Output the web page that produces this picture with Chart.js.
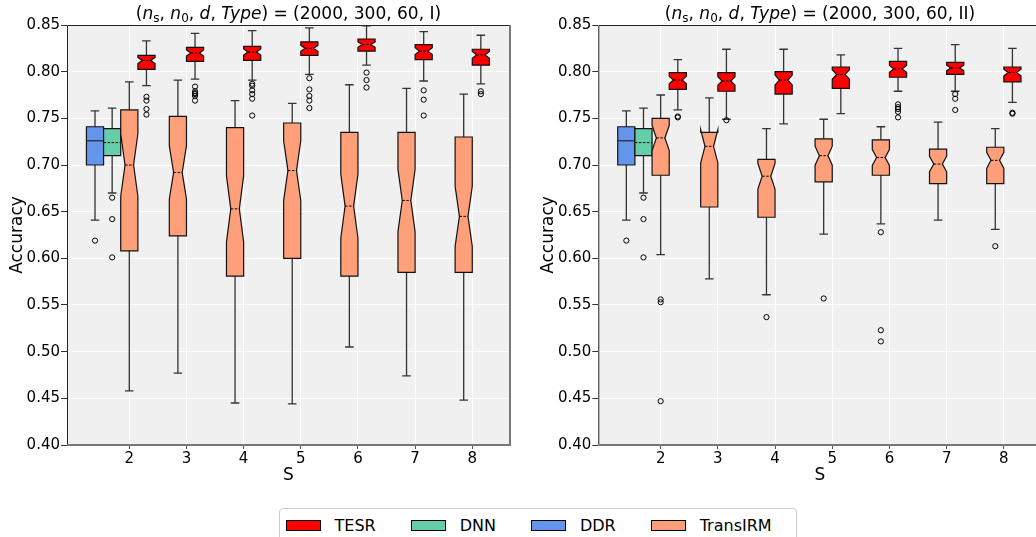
<!DOCTYPE html>
<html lang="en">
<head>
  <meta charset="UTF-8">
  <title>Accuracy vs S - TESR, DNN, DDR, TransIRM</title>
  <script src="https://cdn.jsdelivr.net/npm/chart.js"></script>
  <style>
    html, body { margin: 0; padding: 0; width: 1036px; height: 537px; overflow: hidden; background: #fff; }
    body { position: relative; font-family: "DejaVu Sans", sans-serif; color: #000; }
    .panel { position: absolute; top: 0; }
    .title { position: absolute; top: 2px; height: 22px; line-height: 22px; font-size: 17px; text-align: center; white-space: nowrap; }
    .title sub { font-size: 12px; line-height: 0; vertical-align: -3px; font-style: normal; }
    .legend { position: absolute; left: 279px; top: 508px; width: 518px; height: 40px; box-sizing: border-box;
              border: 1px solid #ccc; border-radius: 4px; padding: 6px 0 0 6px; display: flex; gap: 35.5px; }
    .item { display: flex; align-items: center; height: 20px; font-size: 16px; }
    .sw { width: 35px; height: 11px; box-sizing: border-box; border: 1px solid #000; margin-right: 13.5px; }
  </style>
</head>
<body>
  <div class="panel" style="left:0;width:522px;height:490px"><canvas id="chartI" width="522" height="490"></canvas></div>
  <div class="panel" style="left:525px;width:530px;height:490px"><canvas id="chartII" width="530" height="490"></canvas></div>

  <div class="title" style="left:67px;width:443px">(<i>n</i><sub>s</sub>, <i>n</i><sub>0</sub>, <i>d</i>, <i>Type</i>) = (2000, 300, 60, I)</div>
  <div class="title" style="left:598px;width:444px">(<i>n</i><sub>s</sub>, <i>n</i><sub>0</sub>, <i>d</i>, <i>Type</i>) = (2000, 300, 60, II)</div>

  <div class="legend">
    <div class="item"><span class="sw" style="background:#ff0000"></span>TESR</div>
    <div class="item"><span class="sw" style="background:#66cdaa"></span>DNN</div>
    <div class="item"><span class="sw" style="background:#6495ed"></span>DDR</div>
    <div class="item"><span class="sw" style="background:#ffa07a"></span>TransIRM</div>
  </div>

  <script>
    // ---- data ----
    const sValues = [2, 3, 4, 5, 6, 7, 8];
    const yTicks = [0.40, 0.45, 0.50, 0.55, 0.60, 0.65, 0.70, 0.75, 0.80, 0.85];
    const runs = 50; // repetitions per setting (notch width)

    // each row: [lower whisker, Q1, median, Q3, upper whisker]
    const ddrStats = [0.641, 0.700, 0.726, 0.741, 0.758];
    const ddrOut = [0.619];
    const dnnStats = [0.670, 0.710, 0.724, 0.739, 0.761];
    const dnnOut = [0.665, 0.642, 0.601];

    // Type I, one row per S
    const tesrI = [
      [0.785, 0.8025, 0.812, 0.8175, 0.833],
      [0.792, 0.811, 0.820, 0.826, 0.841],
      [0.791, 0.812, 0.821, 0.827, 0.844],
      [0.797, 0.8175, 0.825, 0.832, 0.847],
      [0.807, 0.822, 0.829, 0.835, 0.849],
      [0.790, 0.813, 0.822, 0.829, 0.843],
      [0.787, 0.807, 0.818, 0.824, 0.839]
    ];
    const tesrIOut = [
      [0.773, 0.769, 0.760, 0.754],
      [0.784, 0.779, 0.777, 0.776, 0.774, 0.769],
      [0.787, 0.785, 0.780, 0.776, 0.771, 0.753],
      [0.793, 0.781, 0.774, 0.769, 0.761],
      [0.799, 0.791, 0.783],
      [0.780, 0.770, 0.753],
      [0.779, 0.776]
    ];
    const transI = [
      [0.458, 0.608, 0.700, 0.759, 0.789],
      [0.477, 0.624, 0.692, 0.752, 0.791],
      [0.445, 0.581, 0.653, 0.740, 0.769],
      [0.444, 0.600, 0.694, 0.745, 0.766],
      [0.505, 0.581, 0.656, 0.735, 0.786],
      [0.474, 0.585, 0.662, 0.735, 0.782],
      [0.448, 0.585, 0.645, 0.730, 0.776]
    ];
    const transIOut = [[], [], [], [], [], [], []];

    // Type II
    const tesrII = [
      [0.759, 0.781, 0.791, 0.799, 0.813],
      [0.749, 0.779, 0.790, 0.799, 0.824],
      [0.744, 0.776, 0.791, 0.800, 0.824],
      [0.755, 0.782, 0.797, 0.805, 0.818],
      [0.779, 0.794, 0.803, 0.811, 0.825],
      [0.779, 0.797, 0.804, 0.810, 0.829],
      [0.767, 0.789, 0.799, 0.805, 0.825]
    ];
    const tesrIIOut = [
      [0.752, 0.751],
      [0.748],
      [],
      [],
      [0.765, 0.762, 0.760, 0.757, 0.751],
      [0.776, 0.771, 0.759],
      [0.756, 0.755]
    ];
    const transII = [
      [0.604, 0.689, 0.729, 0.750, 0.775],
      [0.578, 0.655, 0.720, 0.735, 0.772],
      [0.561, 0.644, 0.688, 0.706, 0.739],
      [0.626, 0.682, 0.710, 0.728, 0.749],
      [0.637, 0.689, 0.708, 0.727, 0.741],
      [0.641, 0.680, 0.701, 0.717, 0.746],
      [0.631, 0.680, 0.705, 0.719, 0.739]
    ];
    const transIIOut = [[0.556, 0.553, 0.447], [], [0.537], [0.557], [0.628, 0.523, 0.511], [], [0.613]];

    // ---- layout of the boxes along x ----
    const BOX_W = 0.3;
    const DDR_X = 1.4, DNN_X = 1.7;
    const tesrX = s => (s === 2 ? 2.3 : s + 0.15);
    const transX = s => (s === 2 ? 2.0 : s - 0.15);

    const FONT = "'DejaVu Sans'";
    const COLORS = { tesr: '#ff0000', dnn: '#66cdaa', ddr: '#6495ed', trans: '#ffa07a' };

    function drawBox(ctx, xs, ys, pos, st, fill, notched, dashed) {
      const [lo, q1, med, q3, hi] = st;
      const xc = xs.getPixelForValue(pos);
      const h = xs.getPixelForValue(pos + BOX_W / 2) - xc;
      const yLo = ys.getPixelForValue(lo), yQ1 = ys.getPixelForValue(q1);
      const yMed = ys.getPixelForValue(med), yQ3 = ys.getPixelForValue(q3);
      const yHi = ys.getPixelForValue(hi);

      // whiskers + caps
      ctx.save();
      ctx.strokeStyle = '#333';
      ctx.lineWidth = 1.3;
      ctx.beginPath();
      ctx.moveTo(xc, yQ1); ctx.lineTo(xc, yLo);
      ctx.moveTo(xc, yQ3); ctx.lineTo(xc, yHi);
      ctx.moveTo(xc - h / 2, yLo); ctx.lineTo(xc + h / 2, yLo);
      ctx.moveTo(xc - h / 2, yHi); ctx.lineTo(xc + h / 2, yHi);
      ctx.stroke();

      // box
      ctx.beginPath();
      if (notched) {
        const ci = 1.57 * (q3 - q1) / Math.sqrt(runs);
        const yNl = ys.getPixelForValue(med - ci), yNh = ys.getPixelForValue(med + ci);
        ctx.moveTo(xc - h, yQ1);
        ctx.lineTo(xc - h, yNl);
        ctx.lineTo(xc - h / 2, yMed);
        ctx.lineTo(xc - h, yNh);
        ctx.lineTo(xc - h, yQ3);
        ctx.lineTo(xc + h, yQ3);
        ctx.lineTo(xc + h, yNh);
        ctx.lineTo(xc + h / 2, yMed);
        ctx.lineTo(xc + h, yNl);
        ctx.lineTo(xc + h, yQ1);
      } else {
        ctx.rect(xc - h, yQ3, 2 * h, yQ1 - yQ3);
      }
      ctx.closePath();
      ctx.fillStyle = fill;
      ctx.fill();
      ctx.strokeStyle = '#111';
      ctx.lineWidth = 1.2;
      ctx.stroke();

      // median
      const mw = notched ? h / 2 : h;
      ctx.beginPath();
      ctx.setLineDash(dashed ? [2.5, 1.5] : []);
      ctx.strokeStyle = dashed ? '#000' : '#333';
      ctx.lineWidth = dashed ? 1 : 1.4;
      ctx.moveTo(xc - mw, yMed); ctx.lineTo(xc + mw, yMed);
      ctx.stroke();
      ctx.restore();
    }

    const bgPlugin = {
      id: 'plotBg',
      beforeDraw(chart) {
        const { ctx, chartArea: a } = chart;
        ctx.save();
        ctx.fillStyle = '#f0f0f0';
        ctx.fillRect(a.left, a.top, a.right - a.left, a.bottom - a.top);
        ctx.restore();
      }
    };

    const boxPlugin = {
      id: 'boxes',
      beforeDatasetsDraw(chart, args, opts) {
        const { ctx } = chart;
        const xs = chart.scales.x, ys = chart.scales.y;
        drawBox(ctx, xs, ys, DDR_X, ddrStats, COLORS.ddr, false, false);
        drawBox(ctx, xs, ys, DNN_X, dnnStats, COLORS.dnn, false, true);
        sValues.forEach((s, i) => {
          drawBox(ctx, xs, ys, transX(s), opts.trans[i], COLORS.trans, true, true);
          drawBox(ctx, xs, ys, tesrX(s), opts.tesr[i], COLORS.tesr, true, true);
        });
      }
    };

    const spinePlugin = {
      id: 'spines',
      afterDraw(chart) {
        const { ctx, chartArea: a } = chart;
        ctx.save();
        ctx.strokeStyle = '#222';
        ctx.lineWidth = 1;
        ctx.beginPath();
        ctx.moveTo(a.left + 0.5, a.bottom); ctx.lineTo(a.left + 0.5, a.top + 0.5);
        ctx.lineTo(a.right, a.top + 0.5);
        ctx.stroke();
        ctx.strokeStyle = '#777';
        ctx.lineWidth = 2;
        ctx.beginPath();
        ctx.moveTo(a.left, a.bottom); ctx.lineTo(a.right, a.bottom);
        ctx.lineTo(a.right, a.top);
        ctx.stroke();
        ctx.restore();
      }
    };

    function outlierPoints(tesrOut, transOut) {
      const pts = [];
      ddrOut.forEach(v => pts.push({ x: DDR_X, y: v }));
      dnnOut.forEach(v => pts.push({ x: DNN_X, y: v }));
      sValues.forEach((s, i) => {
        transOut[i].forEach(v => pts.push({ x: transX(s), y: v }));
        tesrOut[i].forEach(v => pts.push({ x: tesrX(s), y: v }));
      });
      return pts;
    }

    function makePanel(id, tesr, tesrOut, trans, transOut, yWidth, padRight, yTitlePad) {
      new Chart(document.getElementById(id), {
        type: 'scatter',
        data: {
          datasets: [{
            data: outlierPoints(tesrOut, transOut),
            pointRadius: 2.6,
            pointHoverRadius: 2.6,
            pointBorderWidth: 1,
            pointBackgroundColor: 'rgba(0,0,0,0)',
            pointBorderColor: '#000'
          }]
        },
        options: {
          responsive: false,
          animation: false,
          devicePixelRatio: 1,
          events: [],
          layout: { padding: { top: 25, right: padRight, left: 0, bottom: 0 } },
          plugins: {
            legend: { display: false },
            tooltip: { enabled: false },
            boxes: { tesr: tesr, trans: trans }
          },
          scales: {
            x: {
              type: 'linear', min: 0.91, max: 8.66,
              afterBuildTicks: s => { s.ticks = sValues.map(v => ({ value: v })); },
              afterFit: s => { s.height = 45; },
              grid: { color: '#fff', lineWidth: 1, tickColor: '#555', tickLength: 4 },
              border: { display: false },
              ticks: { color: '#000', font: { family: FONT, size: 15 }, padding: 1, callback: v => String(v) },
              title: { display: true, text: 'S', color: '#000', font: { family: FONT, size: 17 }, padding: { top: 0, bottom: 4 } }
            },
            y: {
              min: 0.40, max: 0.85,
              afterBuildTicks: s => { s.ticks = yTicks.map(v => ({ value: v })); },
              afterFit: s => { s.width = yWidth; },
              grid: { color: '#fff', lineWidth: 1, tickColor: '#333', tickLength: 6 },
              border: { display: false },
              ticks: { color: '#000', font: { family: FONT, size: 15 }, padding: 1, callback: v => v.toFixed(2) },
              title: { display: true, text: 'Accuracy', color: '#000', font: { family: FONT, size: 17 }, padding: { top: yTitlePad, bottom: 0 } }
            }
          }
        },
        plugins: [bgPlugin, boxPlugin, spinePlugin]
      });
    }

    makePanel('chartI', tesrI, tesrIOut, transI, transIOut, 67, 12, 7);
    makePanel('chartII', tesrII, tesrIIOut, transII, transIIOut, 73.3, 13.4, 13.5);
  </script>
</body>
</html>
